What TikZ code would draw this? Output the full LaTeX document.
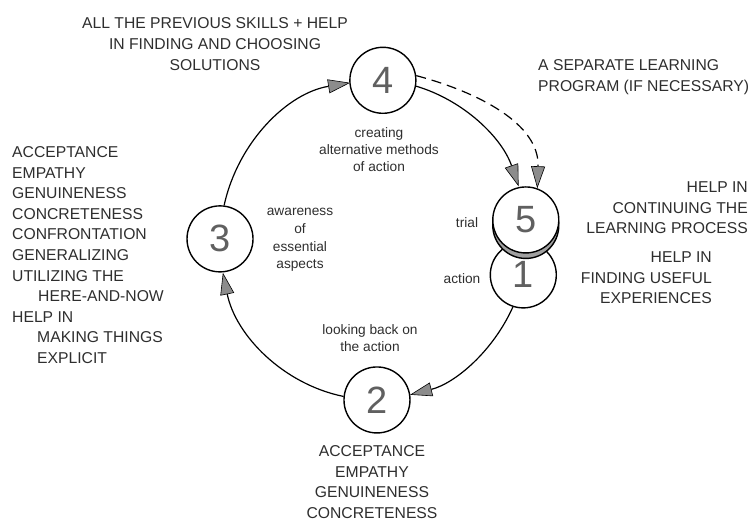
\documentclass[tikz,border=0pt]{standalone}
\usepackage{fontspec}
\setmainfont{Liberation Sans}
\usetikzlibrary{arrows.meta,calc}
\definecolor{ink}{HTML}{2E2E2E}
\definecolor{arrowgray}{HTML}{8C8C8C}
\definecolor{digit}{HTML}{606060}
\definecolor{shadowgray}{HTML}{A0A0A0}
\begin{document}
\begin{tikzpicture}[x=1pt,y=-1pt,
  stage/.style={circle, draw=black, line width=1.4pt, fill=white, minimum size=66pt, inner sep=0pt, text=digit, font=\fontsize{38}{38}\selectfont},
  shadowdisc/.style={stage, fill=shadowgray},
  capstext/.style={text=ink, font=\fontsize{15.7}{20.6}\selectfont, inner sep=0pt},
  note/.style={text=ink, font=\fontsize{13.7}{17}\selectfont, inner sep=0pt, align=center},
  loopline/.style={line width=1.2pt, draw=black, -{Triangle[length=22pt,width=14pt,fill=arrowgray,line width=0.6pt]}},
  loopar/.style={x radius=153.5pt, y radius=160pt}
]
\useasboundingbox (0,0) rectangle (751,521);
\coordinate (C) at (373.5,240);
% stage circles
\node[stage] (n4) at ($(C)+(86.5:153.5pt and 160pt)$) {4};
\node[stage] (n3) at ($(C)+(179.6:153.5pt and 160pt)$) {3};
\node[stage] (n2) at ($(C)+(-88.7:153.5pt and 160pt)$) {2};
\node[stage] (n1) at ($(C)+(-12.6:153.5pt and 160pt)$) {1};
\coordinate (p5) at ($(C)+(7.2:153.5pt and 160pt)$);
\node[shadowdisc] (n5shadow) at ($(p5)+(0,5.5)$) {};
\node[stage] (n5) at (p5) {5};
% cycle connectors
\draw[loopline] (n3.83.7) arc[loopar, start angle=167.2, end angle=98.9];
\draw[loopline] (n4.-10.1) arc[loopar, start angle=74.1, end angle=19.6];
\draw[loopline] (n1.-108.1) arc[loopar, start angle=-25, end angle=-76.3];
\draw[loopline] (n2.174.8) arc[loopar, start angle=-101.1, end angle=-168];
\draw[loopline, dash pattern=on 10pt off 6pt] (n4.8) to[out=-15, in=88] (n5.70);
% inner labels
\node[note] (l4) at (379,150) {creating\\alternative methods\\of action};
\node[note, font=\fontsize{13.7}{17.7}\selectfont] (l3) at (300,240) {awareness\\of\\essential\\aspects};
\node[note] (l5) at (467,223) {trial};
\node[note] (l1) at (462,279) {action};
\node[note] (l2) at (370,338) {looking back on\\the action};
% outer texts
\node[capstext, align=center] (t4) at (215,44) {ALL THE PREVIOUS SKILLS + HELP\\IN FINDING AND CHOOSING\\SOLUTIONS};
\node[capstext, align=left, anchor=west] (tsep) at (538,77) {A SEPARATE LEARNING\\PROGRAM (IF NECESSARY)};
\node[capstext, align=right, anchor=east] (t5) at (748,208) {HELP IN\\CONTINUING THE\\LEARNING PROCESS};
\node[capstext, align=right, anchor=east] (t1) at (712,278) {HELP IN\\FINDING USEFUL\\EXPERIENCES};
\node[capstext, align=left, anchor=west] (t3) at (12,255) {ACCEPTANCE\\EMPATHY\\GENUINENESS\\CONCRETENESS\\CONFRONTATION\\GENERALIZING\\UTILIZING THE\\\hspace*{26pt}HERE-AND-NOW\\HELP IN\\\hspace*{25pt}MAKING THINGS\\\hspace*{25pt}EXPLICIT};
\node[capstext, align=center] (t2) at (372,482) {ACCEPTANCE\\EMPATHY\\GENUINENESS\\CONCRETENESS};
\end{tikzpicture}
\end{document}
